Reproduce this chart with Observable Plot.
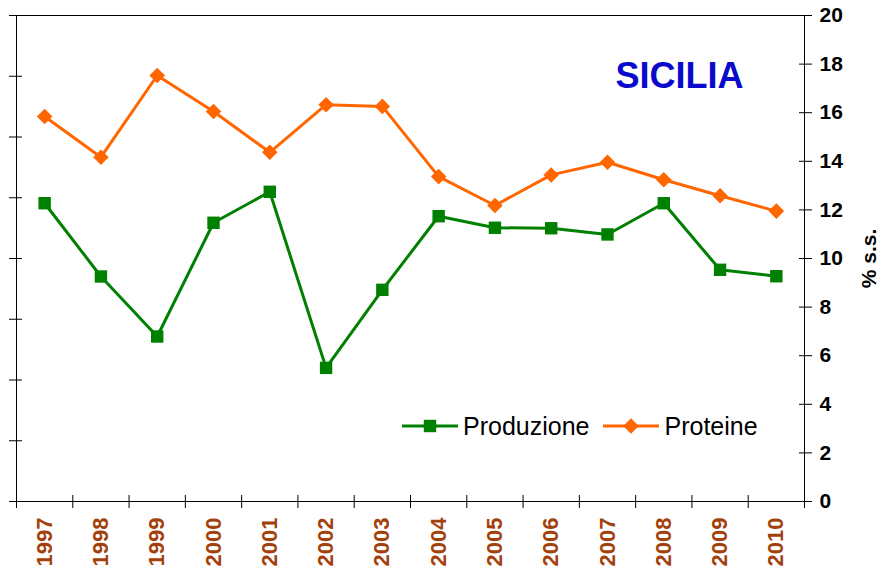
<!DOCTYPE html>
<html>
<head>
<meta charset="utf-8">
<script src="https://cdn.jsdelivr.net/npm/d3@7"></script>
<script src="https://cdn.jsdelivr.net/npm/@observablehq/plot@0.6"></script>
<style>
  html, body { margin: 0; padding: 0; background: #fff; }
  #wrap { position: relative; width: 892px; height: 569px; overflow: hidden; font-family: "Liberation Sans", Arial, sans-serif; }
  #legend { position: absolute; left: 402px; top: 411px; display: flex; align-items: center; font-size: 25px; color: #000; white-space: nowrap; }
  #legend .item { display: flex; align-items: center; }
  #legend svg { display: block; }
</style>
</head>
<body>
<div id="wrap"></div>
<script>
// ---- data ----
const years = [1997, 1998, 1999, 2000, 2001, 2002, 2003, 2004, 2005, 2006, 2007, 2008, 2009, 2010];
// Produzione (left axis, scale 0–40; labels not visible in reference)
const produzione = [24.55, 18.52, 13.58, 22.94, 25.49, 11.00, 17.42, 23.48, 22.53, 22.49, 21.98, 24.55, 19.07, 18.54];
// Proteine (% s.s., right axis 0–20)
const proteine = [15.84, 14.17, 17.53, 16.05, 14.37, 16.33, 16.26, 13.37, 12.18, 13.44, 13.96, 13.24, 12.58, 11.95];
const rightTicks = [0, 2, 4, 6, 8, 10, 12, 14, 16, 18, 20];
const leftMax = 40;
const leftTicks = [0, 5, 10, 15, 20, 25, 30, 35, 40];
const seriesNames = ["Produzione", "Proteine"];
const title = "SICILIA";
const yLabel = "% s.s.";

const GREEN = "#008000";
const ORANGE = "#ff6600";
const BROWN = "#a3410c";
const FONT = "Liberation Sans, Arial, sans-serif";

const rightMax = 20;
const toRight = v => v * rightMax / leftMax;

const data = years.map((y, i) => ({year: y, prod: produzione[i], prot: proteine[i]}));
const boundaries = years.map(y => y - 0.5).concat([years[years.length - 1] + 0.5]);

const chart = Plot.plot({
  width: 892,
  height: 569,
  marginLeft: 16,
  marginRight: 88,
  marginTop: 15,
  marginBottom: 68,
  style: {fontFamily: FONT, background: "transparent", overflow: "visible"},
  x: {domain: [years[0] - 0.5, years[years.length - 1] + 0.5]},
  y: {domain: [0, rightMax]},
  marks: [
    Plot.frame({stroke: "#000", strokeWidth: 1}),
    // left axis ticks (crossing), no visible labels
    Plot.axisY({anchor: "left", ticks: leftTicks.map(toRight), tickSize: 7, text: null, stroke: "#000", label: null}),
    Plot.axisY({anchor: "left", ticks: leftTicks.map(toRight), tickSize: -6, text: null, stroke: "#000", label: null}),
    // right axis
    Plot.axisY({anchor: "right", ticks: rightTicks, tickSize: 7, tickPadding: 8, tickFormat: d => String(d),
      fontSize: 21, fontWeight: "bold", fill: "#000", stroke: "#000", label: null}),
    Plot.axisY({anchor: "right", ticks: rightTicks, tickSize: -6, text: null, stroke: "#000", label: null}),
    // x axis: ticks at category boundaries, labels at centers
    Plot.axisX({ticks: boundaries, tickSize: 7, text: null, stroke: "#000", label: null}),
    Plot.axisX({ticks: boundaries, tickSize: -6, text: null, stroke: "#000", label: null}),
    Plot.axisX({ticks: years, tickSize: 0, tickPadding: 16, tickRotate: -90, tickFormat: d => String(d),
      fontSize: 22, fontWeight: "bold", fill: BROWN, label: null}),
    // series
    Plot.lineY(data, {x: "year", y: d => toRight(d.prod), stroke: GREEN, strokeWidth: 3}),
    Plot.dot(data, {x: "year", y: d => toRight(d.prod), symbol: "square", r: 7, fill: GREEN, stroke: null}),
    Plot.lineY(data, {x: "year", y: "prot", stroke: ORANGE, strokeWidth: 3}),
    Plot.dot(data, {x: "year", y: "prot", symbol: "diamond2", r: 7, fill: ORANGE, stroke: null}),
    // title inside plot
    Plot.text([title], {frameAnchor: "top-right", dx: -125, dy: 72, text: d => d, textAnchor: "middle", lineAnchor: "bottom",
      fontSize: 36, fontWeight: "bold", fill: "#0a0acc"}),
    // right axis label
    Plot.text([yLabel], {frameAnchor: "right", dx: 65, text: d => d, rotate: -90, textAnchor: "middle",
      fontSize: 21, fontWeight: "bold", fill: "#000"})
  ]
});

const wrap = document.getElementById("wrap");
wrap.appendChild(chart);

// legend overlay
const legend = document.createElement("div");
legend.id = "legend";
function swatch(color, kind) {
  const ns = "http://www.w3.org/2000/svg";
  const s = document.createElementNS(ns, "svg");
  s.setAttribute("width", 56); s.setAttribute("height", 30);
  const line = document.createElementNS(ns, "line");
  line.setAttribute("x1", 0); line.setAttribute("x2", 56);
  line.setAttribute("y1", 15); line.setAttribute("y2", 15);
  line.setAttribute("stroke", color); line.setAttribute("stroke-width", 3);
  s.appendChild(line);
  const m = document.createElementNS(ns, "path");
  const sym = d3.symbol(kind === "square" ? d3.symbolSquare : d3.symbolDiamond2, 7 * 7 * Math.PI);
  m.setAttribute("d", sym());
  m.setAttribute("transform", "translate(28,15)");
  m.setAttribute("fill", color);
  s.appendChild(m);
  return s;
}
const items = [[seriesNames[0], GREEN, "square"], [seriesNames[1], ORANGE, "diamond"]];
items.forEach(([name, color, kind], i) => {
  const it = document.createElement("div");
  it.className = "item";
  if (i > 0) it.style.marginLeft = "14px";
  it.appendChild(swatch(color, kind));
  const t = document.createElement("span");
  t.textContent = name;
  t.style.marginLeft = "5px";
  it.appendChild(t);
  legend.appendChild(it);
});
wrap.appendChild(legend);
</script>
</body>
</html>
